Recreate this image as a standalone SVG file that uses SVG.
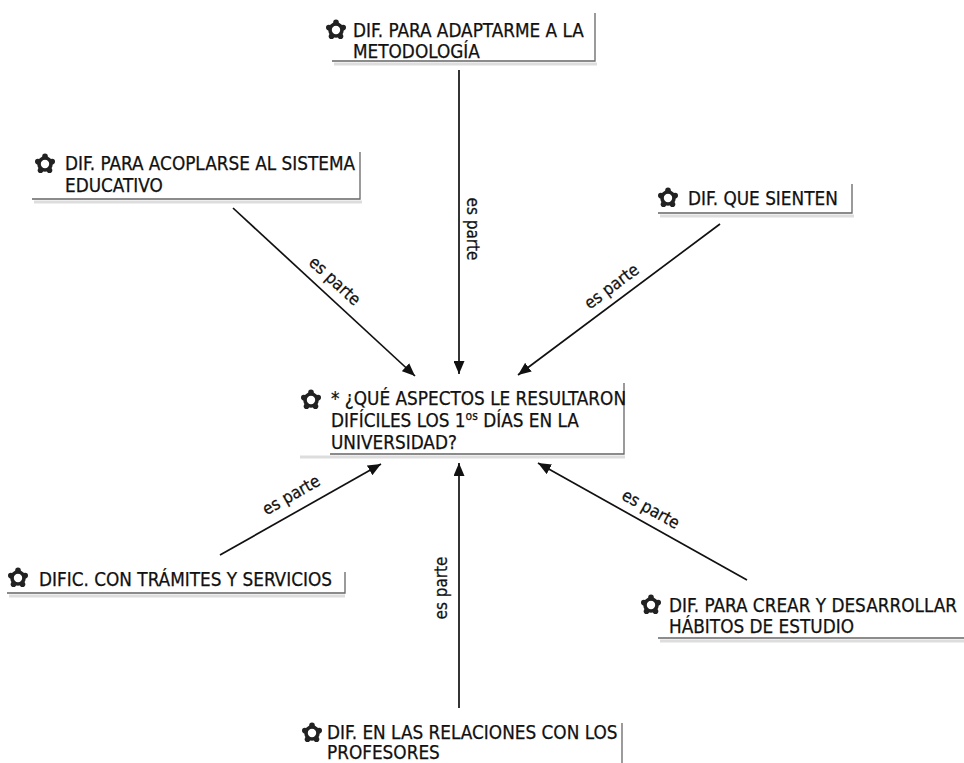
<svg xmlns="http://www.w3.org/2000/svg" width="964" height="763" viewBox="0 0 964 763">
<style>
.t{font-family:"DejaVu Sans Condensed","DejaVu Sans",sans-serif;font-stretch:condensed;font-size:18.8px;fill:#111;stroke:#111;stroke-width:0.25}
.l{font-family:"DejaVu Sans Condensed","DejaVu Sans",sans-serif;font-stretch:condensed;font-size:17px;fill:#111;stroke:#111;stroke-width:0.25}
.b{stroke:#666;stroke-width:1.3;fill:none}
.s{stroke:#ddd;stroke-width:3;fill:none}
.c{stroke:#111;stroke-width:1.7;fill:none;marker-end:url(#ah)}
</style>
<defs>
<marker id="ah" markerUnits="userSpaceOnUse" markerWidth="14" markerHeight="11" refX="13" refY="5.5" orient="auto">
<path d="M0,0 L13,5.5 L0,11 Z" fill="#111"/>
</marker>
<g id="ic">
<circle cx="0" cy="0" r="6" fill="#fff" stroke="#222" stroke-width="3.6"/>
<circle cx="0" cy="-7.6" r="2.8" fill="#222"/>
<circle cx="7.2" cy="-2.4" r="2.8" fill="#222"/>
<circle cx="4.5" cy="6.3" r="2.8" fill="#222"/>
<circle cx="-4.5" cy="6.3" r="2.8" fill="#222"/>
<circle cx="-7.2" cy="-2.4" r="2.8" fill="#222"/>
</g>
</defs>
<rect width="964" height="763" fill="#fff"/>

<g id="connectors">
<line class="c" x1="459" y1="70" x2="459" y2="374"/>
<line class="c" x1="233" y1="208" x2="415" y2="376"/>
<line class="c" x1="720" y1="224" x2="518" y2="375"/>
<line class="c" x1="220" y1="555" x2="381" y2="464"/>
<line class="c" x1="459" y1="708" x2="459" y2="463"/>
<line class="c" x1="747" y1="580" x2="538" y2="463"/>
<text class="l" text-anchor="middle" transform="translate(467,229) rotate(90)">es parte</text>
<text class="l" text-anchor="middle" transform="translate(331,285) rotate(42.7)">es parte</text>
<text class="l" text-anchor="middle" transform="translate(615,291) rotate(-36.8)">es parte</text>
<text class="l" text-anchor="middle" transform="translate(294,500) rotate(-29.5)">es parte</text>
<text class="l" text-anchor="middle" transform="translate(447,588) rotate(-90)">es parte</text>
<text class="l" text-anchor="middle" transform="translate(648,514) rotate(29.2)">es parte</text>
</g>

<g id="n-top">
<path class="s" d="M334,64 H597"/>
<path class="b" d="M332,61 H595 V13"/>
<use href="#ic" x="336" y="30"/>
<text class="t" x="353" y="37">DIF. PARA ADAPTARME A LA</text>
<text class="t" x="353" y="58">METODOLOGÍA</text>
</g>

<g id="n-upleft">
<path class="s" d="M34,202 H362"/>
<path class="b" d="M32,199 H360 V152"/>
<use href="#ic" x="45" y="164"/>
<text class="t" x="65" y="170">DIF. PARA ACOPLARSE AL SISTEMA</text>
<text class="t" x="65" y="192">EDUCATIVO</text>
</g>

<g id="n-right">
<path class="s" d="M660,216 H854"/>
<path class="b" d="M658,213 H852 V184"/>
<use href="#ic" x="668" y="198"/>
<text class="t" x="688" y="205">DIF. QUE SIENTEN</text>
</g>

<g id="n-center">
<path class="s" d="M300,457 H625"/>
<path class="b" d="M330,454 H624 V383"/>
<use href="#ic" x="311" y="400"/>
<text class="t" x="331" y="405">* ¿QUÉ ASPECTOS LE RESULTARON</text>
<text class="t" x="331" y="427">DIFÍCILES LOS 1<tspan font-size="12" dy="-7">os</tspan><tspan dy="7"> DÍAS EN LA</tspan></text>
<text class="t" x="331" y="449">UNIVERSIDAD?</text>
</g>

<g id="n-botleft">
<path class="s" d="M9,596 H345"/>
<path class="b" d="M7,593 H345 V572"/>
<use href="#ic" x="18" y="578"/>
<text class="t" x="39" y="586">DIFIC. CON TRÁMITES Y SERVICIOS</text>
</g>

<g id="n-botright">
<path class="s" d="M660,641 H964"/>
<path class="b" d="M658,638 H964"/>
<use href="#ic" x="651" y="605"/>
<text class="t" x="669" y="612">DIF. PARA CREAR Y DESARROLLAR</text>
<text class="t" x="669" y="633">HÁBITOS DE ESTUDIO</text>
</g>

<g id="n-bottom">
<path class="b" d="M622,723 V763"/>
<use href="#ic" x="312" y="733"/>
<text class="t" x="327" y="739">DIF. EN LAS RELACIONES CON LOS</text>
<text class="t" x="327" y="759">PROFESORES</text>
</g>
</svg>
